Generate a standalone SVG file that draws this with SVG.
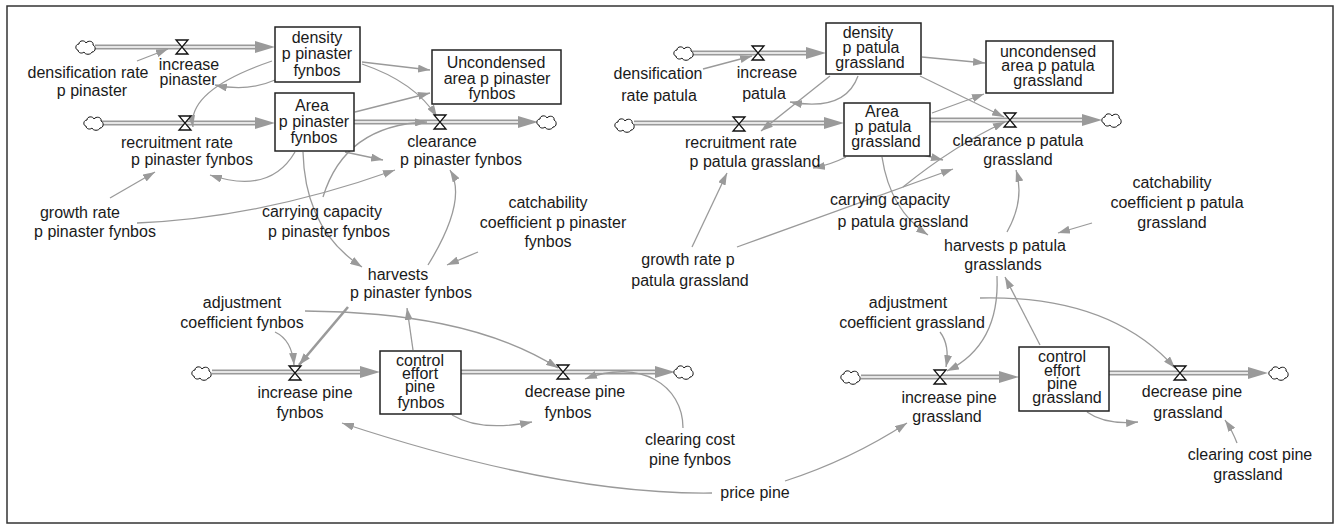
<svg xmlns="http://www.w3.org/2000/svg" width="1338" height="525" viewBox="0 0 1338 525">
<style>
.t{font-family:"Liberation Sans",Arial,sans-serif;font-size:16px;fill:#1a1a1a;text-anchor:middle}
.box{fill:#fff;stroke:#222;stroke-width:1.5}
.lk{fill:none;stroke:#9a9a9a;stroke-width:1.3;marker-end:url(#ah)}
.po{stroke:#9a9a9a;stroke-width:5;fill:none}
.pi{stroke:#fff;stroke-width:1.6;fill:none}
.fh{fill:#9a9a9a}
</style>
<defs>
<marker id="ah" viewBox="0 0 12 8" refX="12" refY="4" markerWidth="12" markerHeight="8" markerUnits="userSpaceOnUse" orient="auto"><path d="M0,0 L12,4 L0,8 z" fill="#9a9a9a"/></marker>
<path id="vz" d="M-6,-7H6L-6,7H6Z" fill="#fff" stroke="#111" stroke-width="1.3"/>
<path id="cl" d="M-8,3 C-11,3 -11,-3 -7,-3 C-7,-7 -1,-7 0,-4 C2,-7 8,-6 7,-2 C10,-1 10,5 6,5 C5,8 -1,8 -2,5 C-4,7 -8,6 -8,3 Z" fill="#fff" stroke="#111" stroke-width="1"/>
</defs>
<rect x="7" y="6" width="1326" height="517" fill="#fff" stroke="#333" stroke-width="1.5"/>

<g id="connectors">
<!-- flow pipes -->
<path class="po" d="M95,47H262M101,123H262M354,122H525M212,372H367M461,372H662M692,53H813M634,123H831M930,120H1089M861,377H1006M1109,373H1255"/>
<path class="pi" d="M95,47H262M101,123H262M354,122H525M212,372H367M461,372H662M692,53H813M634,123H831M930,120H1089M861,377H1006M1109,373H1255"/>
<polygon class="fh" points="255,41 275,47 255,53"/>
<polygon class="fh" points="255,117 275,123 255,129"/>
<polygon class="fh" points="518,116 538,122 518,128"/>
<polygon class="fh" points="360,366 380,372 360,378"/>
<polygon class="fh" points="655,366 675,372 655,378"/>
<polygon class="fh" points="806,47 826,53 806,59"/>
<polygon class="fh" points="824,117 844,123 824,129"/>
<polygon class="fh" points="1082,114 1102,120 1082,126"/>
<polygon class="fh" points="999,371 1019,377 999,383"/>
<polygon class="fh" points="1248,367 1268,373 1248,379"/>
<!-- info links left -->
<path class="lk" d="M137,61 L168,49"/>
<path class="lk" d="M275,80 Q248,92 215,85"/>
<path class="lk" d="M272,61 Q187,90 193,127"/>
<path class="lk" d="M295,152 Q270,195 210,175"/>
<path class="lk" d="M110,198 L155,172"/>
<path class="lk" d="M137,223 Q260,218 395,170"/>
<path class="lk" d="M323,197 Q345,125 427,122"/>
<path class="lk" d="M362,62 L430,70"/>
<path class="lk" d="M355,112 L430,93"/>
<path class="lk" d="M362,64 Q415,82 437,117"/>
<path class="lk" d="M345,152 L383,160"/>
<path class="lk" d="M303,152 Q305,230 362,267"/>
<path class="lk" d="M428,265 Q468,200 450,170"/>
<path class="lk" d="M478,252 L447,265"/>
<path class="lk" d="M275,332 Q292,340 294,365"/>
<path class="lk" d="M348,307 L299,365" style="stroke-width:2.6"/>
<path class="lk" d="M305,311 C400,312 490,325 558,368"/>
<path class="lk" d="M413,350 L407,308"/>
<path class="lk" d="M452,415 Q480,432 532,422"/>
<path class="lk" d="M683,428 C683,385 640,358 585,379"/>
<path class="lk" d="M712,493 Q560,495 342,423"/>
<path class="lk" d="M785,481 Q850,460 907,423"/>
<!-- info links right -->
<path class="lk" d="M703,69 L752,56"/>
<path class="lk" d="M830,76 L761,131"/>
<path class="lk" d="M858,76 Q845,112 790,102"/>
<path class="lk" d="M846,157 Q830,165 813,168"/>
<path class="lk" d="M922,57 L985,63"/>
<path class="lk" d="M932,113 L984,94"/>
<path class="lk" d="M920,76 L1004,117"/>
<path class="lk" d="M903,187 Q955,145 1005,122"/>
<path class="lk" d="M923,155 L943,160"/>
<path class="lk" d="M737,247 L953,169"/>
<path class="lk" d="M692,247 L727,173"/>
<path class="lk" d="M882,157 Q890,210 928,235"/>
<path class="lk" d="M1007,232 Q1025,200 1016,170"/>
<path class="lk" d="M1092,223 L1058,233"/>
<path class="lk" d="M1040,345 L1005,277"/>
<path class="lk" d="M997,276 Q1000,345 947,371"/>
<path class="lk" d="M940,332 Q950,345 946,367"/>
<path class="lk" d="M980,298 Q1110,295 1175,368"/>
<path class="lk" d="M1087,412 Q1105,425 1138,422"/>
<path class="lk" d="M1237,443 Q1232,430 1225,420"/>
</g>

<!-- clouds -->
<g id="cloud1"><use href="#cl" x="86" y="47"/></g>
<g id="cloud2"><use href="#cl" x="94" y="123"/></g>
<g id="cloud3"><use href="#cl" x="547" y="122"/></g>
<g id="cloud4"><use href="#cl" x="202" y="373"/></g>
<g id="cloud5"><use href="#cl" x="684" y="372"/></g>
<g id="cloud6"><use href="#cl" x="684" y="53"/></g>
<g id="cloud7"><use href="#cl" x="625" y="125"/></g>
<g id="cloud8"><use href="#cl" x="1112" y="120"/></g>
<g id="cloud9"><use href="#cl" x="851" y="377"/></g>
<g id="cloud10"><use href="#cl" x="1279" y="373"/></g>

<!-- left stocks -->
<g id="density_pinaster"><rect class="box" x="275" y="27" width="85" height="55"/>
<text class="t"><tspan x="317" y="43">density</tspan><tspan x="317" y="59">p pinaster</tspan><tspan x="317" y="76">fynbos</tspan></text></g>
<g id="area_pinaster"><rect class="box" x="275" y="93" width="79" height="58"/>
<text class="t"><tspan x="312" y="111">Area</tspan><tspan x="314" y="127">p pinaster</tspan><tspan x="314" y="143">fynbos</tspan></text></g>
<g id="uncondensed_pinaster"><rect class="box" x="432" y="50" width="129" height="54"/>
<text class="t"><tspan x="496" y="68">Uncondensed</tspan><tspan x="497" y="84">area p pinaster</tspan><tspan x="492" y="99">fynbos</tspan></text></g>
<g id="control_fynbos"><rect class="box" x="380" y="351" width="81" height="63"/>
<text class="t"><tspan x="420" y="366">control</tspan><tspan x="420" y="379">effort</tspan><tspan x="420" y="392">pine</tspan><tspan x="421" y="408">fynbos</tspan></text></g>

<!-- left flows -->
<g id="increase_pinaster"><use href="#vz" x="182" y="47"/>
<text class="t"><tspan x="189" y="70">increase</tspan><tspan x="188" y="85">pinaster</tspan></text></g>
<g id="recruitment_pinaster"><use href="#vz" x="185" y="123"/>
<text class="t"><tspan x="177" y="148">recruitment rate</tspan><tspan x="192" y="165">p pinaster fynbos</tspan></text></g>
<g id="clearance_pinaster"><use href="#vz" x="440" y="122"/>
<text class="t"><tspan x="442" y="147">clearance</tspan><tspan x="461" y="165">p pinaster fynbos</tspan></text></g>
<g id="increase_pine_fynbos"><use href="#vz" x="295" y="373"/>
<text class="t"><tspan x="305" y="398">increase pine</tspan><tspan x="300" y="418">fynbos</tspan></text></g>
<g id="decrease_pine_fynbos"><use href="#vz" x="563" y="372"/>
<text class="t"><tspan x="575" y="397">decrease pine</tspan><tspan x="568" y="418">fynbos</tspan></text></g>

<!-- left auxiliaries -->
<g id="densification_pinaster"><text class="t"><tspan x="88" y="78">densification rate</tspan><tspan x="92" y="96">p pinaster</tspan></text></g>
<g id="growth_pinaster"><text class="t"><tspan x="80" y="218">growth rate</tspan><tspan x="95" y="237">p pinaster fynbos</tspan></text></g>
<g id="carrying_pinaster"><text class="t"><tspan x="322" y="217">carrying capacity</tspan><tspan x="329" y="237">p pinaster fynbos</tspan></text></g>
<g id="harvests_pinaster"><text class="t"><tspan x="398" y="280">harvests</tspan><tspan x="411" y="298">p pinaster fynbos</tspan></text></g>
<g id="catchability_pinaster"><text class="t"><tspan x="548" y="208">catchability</tspan><tspan x="553" y="228">coefficient p pinaster</tspan><tspan x="548" y="247">fynbos</tspan></text></g>
<g id="adjustment_fynbos"><text class="t"><tspan x="242" y="308">adjustment</tspan><tspan x="242" y="328">coefficient fynbos</tspan></text></g>
<g id="clearing_cost_fynbos"><text class="t"><tspan x="690" y="445">clearing cost</tspan><tspan x="690" y="465">pine fynbos</tspan></text></g>
<g id="price_pine"><text class="t" x="755" y="498">price pine</text></g>

<!-- right stocks -->
<g id="density_patula"><rect class="box" x="826" y="23" width="95" height="51"/>
<text class="t"><tspan x="868" y="38">density</tspan><tspan x="871" y="53">p patula</tspan><tspan x="870" y="68">grassland</tspan></text></g>
<g id="area_patula"><rect class="box" x="844" y="103" width="86" height="53"/>
<text class="t"><tspan x="882" y="117">Area</tspan><tspan x="883" y="132">p patula</tspan><tspan x="886" y="147">grassland</tspan></text></g>
<g id="uncondensed_patula"><rect class="box" x="986" y="41" width="127" height="52"/>
<text class="t"><tspan x="1048" y="57">uncondensed</tspan><tspan x="1048" y="71">area p patula</tspan><tspan x="1048" y="86">grassland</tspan></text></g>
<g id="control_grassland"><rect class="box" x="1019" y="347" width="90" height="64"/>
<text class="t"><tspan x="1062" y="362">control</tspan><tspan x="1062" y="376">effort</tspan><tspan x="1062" y="389">pine</tspan><tspan x="1067" y="403">grassland</tspan></text></g>

<!-- right flows -->
<g id="increase_patula"><use href="#vz" x="758" y="53"/>
<text class="t"><tspan x="767" y="78">increase</tspan><tspan x="764" y="99">patula</tspan></text></g>
<g id="recruitment_patula"><use href="#vz" x="739" y="124"/>
<text class="t"><tspan x="741" y="148">recruitment rate</tspan><tspan x="755" y="167">p patula grassland</tspan></text></g>
<g id="clearance_patula"><use href="#vz" x="1010" y="120"/>
<text class="t"><tspan x="1018" y="146">clearance p patula</tspan><tspan x="1018" y="165">grassland</tspan></text></g>
<g id="increase_pine_grassland"><use href="#vz" x="940" y="377"/>
<text class="t"><tspan x="949" y="403">increase pine</tspan><tspan x="947" y="422">grassland</tspan></text></g>
<g id="decrease_pine_grassland"><use href="#vz" x="1180" y="373"/>
<text class="t"><tspan x="1192" y="397">decrease pine</tspan><tspan x="1188" y="418">grassland</tspan></text></g>

<!-- right auxiliaries -->
<g id="densification_patula"><text class="t"><tspan x="658" y="79">densification</tspan><tspan x="659" y="101">rate patula</tspan></text></g>
<g id="growth_patula"><text class="t"><tspan x="688" y="265">growth rate p</tspan><tspan x="690" y="286">patula grassland</tspan></text></g>
<g id="carrying_patula"><text class="t"><tspan x="890" y="205">carrying capacity</tspan><tspan x="903" y="227">p patula grassland</tspan></text></g>
<g id="harvests_patula"><text class="t"><tspan x="1005" y="251">harvests p patula</tspan><tspan x="1003" y="270">grasslands</tspan></text></g>
<g id="catchability_patula"><text class="t"><tspan x="1172" y="188">catchability</tspan><tspan x="1177" y="208">coefficient p patula</tspan><tspan x="1172" y="228">grassland</tspan></text></g>
<g id="adjustment_grassland"><text class="t"><tspan x="908" y="308">adjustment</tspan><tspan x="912" y="328">coefficient grassland</tspan></text></g>
<g id="clearing_cost_grassland"><text class="t"><tspan x="1250" y="460">clearing cost pine</tspan><tspan x="1248" y="480">grassland</tspan></text></g>
</svg>
